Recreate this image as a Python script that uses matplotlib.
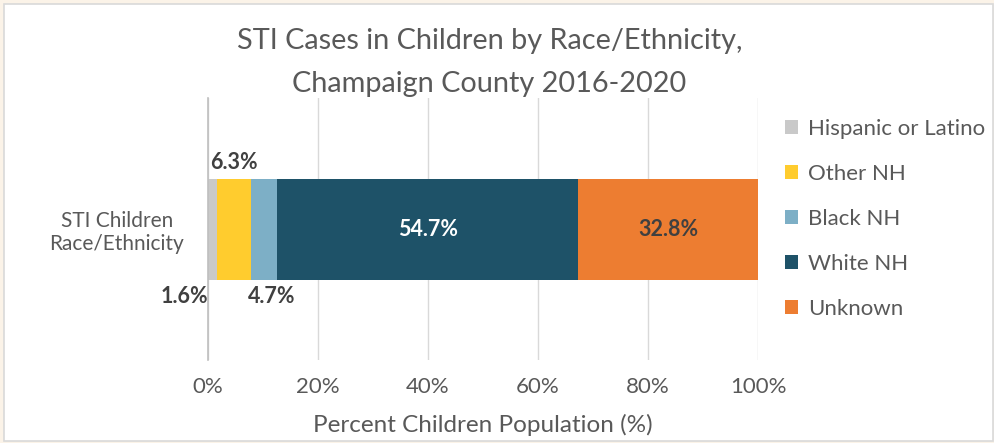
import matplotlib
matplotlib.use("Agg")
import matplotlib.pyplot as plt
from matplotlib.patches import Rectangle

plt.rcParams['font.family'] = ['Lato', 'DejaVu Sans']

category = "STI Children\nRace/Ethnicity"
groups = ["Hispanic or Latino", "Other NH", "Black NH", "White NH", "Unknown"]
values = [1.6, 6.3, 4.7, 54.7, 32.8]
colors = ["#C9C9C9", "#FFCC2E", "#7DAFC6", "#1E5268", "#ED7D31"]
label_colors = ["#404040", "#404040", "#404040", "#FFFFFF", "#404040"]
xticks = [0, 20, 40, 60, 80, 100]
xtick_labels = ["0%", "20%", "40%", "60%", "80%", "100%"]

fig = plt.figure(figsize=(9.95, 4.43), dpi=100)
fig.patch.set_facecolor("#FBF3E8")
fig.patches.append(Rectangle((0.004, 0.005), 0.994, 0.986, transform=fig.transFigure,
                             facecolor="white", edgecolor="#D9D9D9", linewidth=1.2, zorder=-5))

ax = fig.add_axes([0.209, 0.187, 0.553, 0.592])
ax.set_facecolor("none")

left = 0
bars = []
for g, v, c in zip(groups, values, colors):
    ax.barh([0], [v], left=left, height=0.385, color=c, label=g, zorder=3)
    bars.append((left, v))
    left += v

ax.set_xlim(0, 100)
ax.set_ylim(-0.5, 0.5)
ax.set_xticks(xticks)
ax.set_xticklabels(xtick_labels, fontsize=16, color="#595959")
ax.set_yticks([0])
ax.set_yticklabels([category], fontsize=15, color="#595959", multialignment='center')
ax.tick_params(axis='x', length=0, pad=12)
ax.tick_params(axis='y', length=0, pad=17)
ax.grid(axis='x', color="#D9D9D9", linewidth=1, zorder=0)
for s in ["top", "right", "bottom"]:
    ax.spines[s].set_visible(False)
ax.spines["left"].set_color("#BFBFBF")
ax.spines["left"].set_linewidth(1.2)
ax.spines["left"].set_zorder(4)
ax.set_xlabel("Percent Children Population (%)", fontsize=17.5, color="#595959", labelpad=12)

# data labels
(l0, v0), (l1, v1), (l2, v2), (l3, v3), (l4, v4) = bars
kw = dict(fontsize=15.5, fontweight='bold', va='center')
ax.annotate(f"{values[0]}%", xy=(l0 + v0 / 2, -0.19), xytext=(-20, -13),
            textcoords="offset points", ha='center', color=label_colors[0], **kw)
ax.annotate(f"{values[1]}%", xy=(l1 + v1 / 2, 0.19), xytext=(0, 12),
            textcoords="offset points", ha='center', color=label_colors[1], **kw)
ax.annotate(f"{values[2]}%", xy=(l2 + v2 / 2, -0.19), xytext=(5, -13),
            textcoords="offset points", ha='center', color=label_colors[2], **kw)
ax.text(l3 + v3 / 2, 0, f"{values[3]}%", ha='center', color=label_colors[3], **kw)
ax.text(l4 + v4 / 2, 0, f"{values[4]}%", ha='center', color=label_colors[4], **kw)

fig.suptitle("STI Cases in Children by Race/Ethnicity,\nChampaign County 2016-2020",
             x=0.492, y=0.937, fontsize=20.8, color="#595959", linespacing=1.8)

fig.legend(loc='upper left', bbox_to_anchor=(0.78, 0.752), frameon=False,
           fontsize=16, labelcolor="#595959", handlelength=0.6, handleheight=0.6,
           handletextpad=0.45, labelspacing=1.13, borderaxespad=0)

fig.savefig("out.png", dpi=100, facecolor=fig.get_facecolor())
